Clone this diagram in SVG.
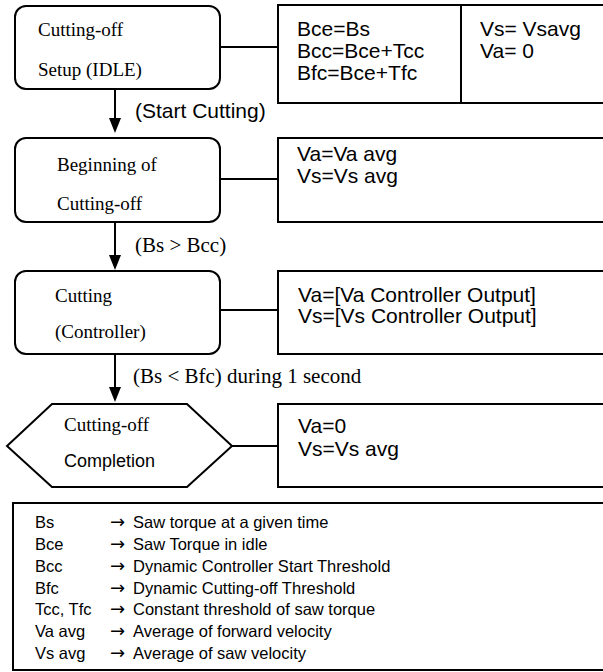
<svg xmlns="http://www.w3.org/2000/svg" width="603" height="672" viewBox="0 0 603 672">
<defs>
<style>
.n{fill:#fff;stroke:#000;stroke-width:2}
.c{stroke:#000;stroke-width:2;fill:none}
.s{font-family:"Liberation Serif","Times New Roman",serif;font-size:19px;fill:#000}
.a{font-family:"Liberation Sans",Arial,sans-serif;font-size:21px;fill:#000}
.l{font-family:"Liberation Serif","Times New Roman",serif;font-size:21px;fill:#000}
.g{font-family:"Liberation Sans",Arial,sans-serif;font-size:16.5px;fill:#000}
.r{font-family:"DejaVu Sans",sans-serif;font-size:18px;fill:#000}
</style>
</defs>
<rect width="603" height="672" fill="#fff"/>
<g id="connectors">
<line class="c" x1="220" y1="47" x2="278" y2="47"/>
<line class="c" x1="220" y1="179" x2="278" y2="179"/>
<line class="c" x1="220" y1="310" x2="278" y2="310"/>
<line class="c" x1="232" y1="446" x2="278" y2="446"/>
<line class="c" x1="115" y1="89" x2="115" y2="118"/>
<path d="M109,118 L121,118 L115,133 Z" fill="#000"/>
<line class="c" x1="115" y1="222" x2="115" y2="255"/>
<path d="M109,255 L121,255 L115,270 Z" fill="#000"/>
<line class="c" x1="115" y1="354" x2="115" y2="387"/>
<path d="M109,387 L121,387 L115,402 Z" fill="#000"/>
<text class="a" x="135" y="118">(Start Cutting)</text>
<text class="l" x="135" y="252">(Bs &gt; Bcc)</text>
<text class="l" x="133" y="383">(Bs &lt; Bfc) during 1 second</text>
</g>
<g id="node-setup">
<rect class="n" x="15" y="6" width="205" height="83" rx="11"/>
<text class="s" x="38" y="36">Cutting-off</text>
<text class="s" x="38" y="76">Setup (IDLE)</text>
</g>
<g id="box-setup">
<rect class="n" x="278" y="5" width="340" height="98"/>
<line class="c" x1="461" y1="5" x2="461" y2="103"/>
<text class="a" x="297" y="36">Bce=Bs</text>
<text class="a" x="297" y="58">Bcc=Bce+Tcc</text>
<text class="a" x="297" y="80">Bfc=Bce+Tfc</text>
<text class="a" x="480" y="36">Vs= Vsavg</text>
<text class="a" x="480" y="58">Va= 0</text>
</g>
<g id="node-beginning">
<rect class="n" x="15" y="138" width="205" height="84" rx="11"/>
<text class="s" x="57" y="171">Beginning of</text>
<text class="s" x="57" y="210">Cutting-off</text>
</g>
<g id="box-beginning">
<rect class="n" x="278" y="138" width="340" height="84"/>
<text class="a" x="297" y="161">Va=Va avg</text>
<text class="a" x="297" y="183">Vs=Vs avg</text>
</g>
<g id="node-cutting">
<rect class="n" x="15" y="271" width="205" height="83" rx="11"/>
<text class="s" x="55" y="302">Cutting</text>
<text class="s" x="55" y="338">(Controller)</text>
</g>
<g id="box-cutting">
<rect class="n" x="278" y="271" width="340" height="83"/>
<text class="a" x="298" y="302">Va=[Va Controller Output]</text>
<text class="a" x="298" y="323">Vs=[Vs Controller Output]</text>
</g>
<g id="node-completion">
<polygon class="n" points="52,404 187,404 232,446 187,487 52,487 7,446"/>
<text class="s" x="64" y="431">Cutting-off</text>
<text class="a" x="64" y="467" style="font-size:18px">Completion</text>
</g>
<g id="box-completion">
<rect class="n" x="278" y="404" width="340" height="83"/>
<text class="a" x="298" y="433">Va=0</text>
<text class="a" x="298" y="456">Vs=Vs avg</text>
</g>
<g id="legend">
<rect class="n" x="13" y="503" width="610" height="167"/>
<g class="g">
<text x="35" y="528">Bs</text><text class="r" x="110" y="528">→</text><text x="133" y="528">Saw torque at a given time</text>
<text x="35" y="550">Bce</text><text class="r" x="110" y="550">→</text><text x="133" y="550">Saw Torque in idle</text>
<text x="35" y="572">Bcc</text><text class="r" x="110" y="572">→</text><text x="133" y="572">Dynamic Controller Start Threshold</text>
<text x="35" y="594">Bfc</text><text class="r" x="110" y="594">→</text><text x="133" y="594">Dynamic Cutting-off Threshold</text>
<text x="35" y="615">Tcc, Tfc</text><text class="r" x="110" y="615">→</text><text x="133" y="615">Constant threshold of saw torque</text>
<text x="35" y="637">Va avg</text><text class="r" x="110" y="637">→</text><text x="133" y="637">Average of forward velocity</text>
<text x="35" y="659">Vs avg</text><text class="r" x="110" y="659">→</text><text x="133" y="659">Average of saw velocity</text>
</g>
</g>
</svg>
